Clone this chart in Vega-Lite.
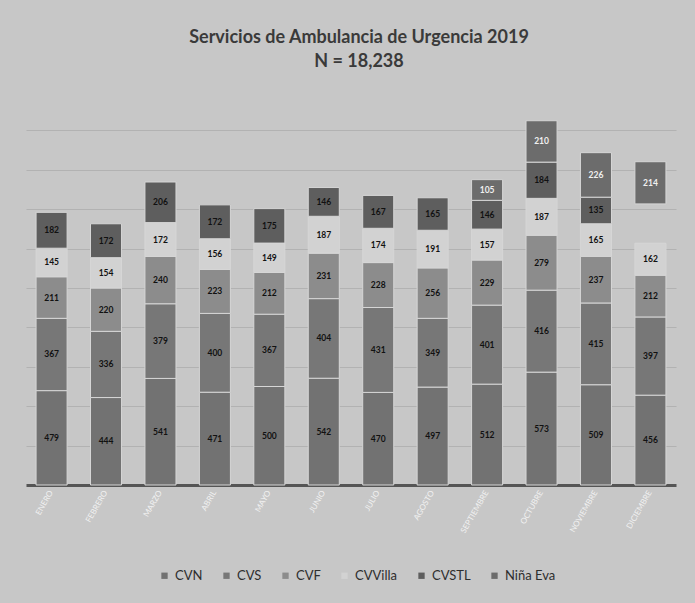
{
  "$schema": "https://vega.github.io/schema/vega-lite/v6.json",
  "width": 650,
  "height": 394,
  "autosize": {"type": "none"},
  "padding": {"left": 26, "top": 91, "right": 19, "bottom": 118},
  "background": "#c7c7c7",
  "config": {"view": {"stroke": null}},
  "title": {
    "text": ["Servicios de Ambulancia de Urgencia 2019", "N = 18,238"],
    "font": "Lato",
    "fontSize": 18,
    "fontWeight": "bold",
    "color": "#3a3a3a",
    "anchor": "middle",
    "dx": 8,
    "offset": 20,
    "lineHeight": 24
  },
  "data": {
    "values": [
      {"mes": "ENERO", "serie": "CVN", "valor": 479},
      {"mes": "ENERO", "serie": "CVS", "valor": 367},
      {"mes": "ENERO", "serie": "CVF", "valor": 211},
      {"mes": "ENERO", "serie": "CVVilla", "valor": 145},
      {"mes": "ENERO", "serie": "CVSTL", "valor": 182},
      {"mes": "FEBRERO", "serie": "CVN", "valor": 444},
      {"mes": "FEBRERO", "serie": "CVS", "valor": 336},
      {"mes": "FEBRERO", "serie": "CVF", "valor": 220},
      {"mes": "FEBRERO", "serie": "CVVilla", "valor": 154},
      {"mes": "FEBRERO", "serie": "CVSTL", "valor": 172},
      {"mes": "MARZO", "serie": "CVN", "valor": 541},
      {"mes": "MARZO", "serie": "CVS", "valor": 379},
      {"mes": "MARZO", "serie": "CVF", "valor": 240},
      {"mes": "MARZO", "serie": "CVVilla", "valor": 172},
      {"mes": "MARZO", "serie": "CVSTL", "valor": 206},
      {"mes": "ABRIL", "serie": "CVN", "valor": 471},
      {"mes": "ABRIL", "serie": "CVS", "valor": 400},
      {"mes": "ABRIL", "serie": "CVF", "valor": 223},
      {"mes": "ABRIL", "serie": "CVVilla", "valor": 156},
      {"mes": "ABRIL", "serie": "CVSTL", "valor": 172},
      {"mes": "MAYO", "serie": "CVN", "valor": 500},
      {"mes": "MAYO", "serie": "CVS", "valor": 367},
      {"mes": "MAYO", "serie": "CVF", "valor": 212},
      {"mes": "MAYO", "serie": "CVVilla", "valor": 149},
      {"mes": "MAYO", "serie": "CVSTL", "valor": 175},
      {"mes": "JUNIO", "serie": "CVN", "valor": 542},
      {"mes": "JUNIO", "serie": "CVS", "valor": 404},
      {"mes": "JUNIO", "serie": "CVF", "valor": 231},
      {"mes": "JUNIO", "serie": "CVVilla", "valor": 187},
      {"mes": "JUNIO", "serie": "CVSTL", "valor": 146},
      {"mes": "JULIO", "serie": "CVN", "valor": 470},
      {"mes": "JULIO", "serie": "CVS", "valor": 431},
      {"mes": "JULIO", "serie": "CVF", "valor": 228},
      {"mes": "JULIO", "serie": "CVVilla", "valor": 174},
      {"mes": "JULIO", "serie": "CVSTL", "valor": 167},
      {"mes": "AGOSTO", "serie": "CVN", "valor": 497},
      {"mes": "AGOSTO", "serie": "CVS", "valor": 349},
      {"mes": "AGOSTO", "serie": "CVF", "valor": 256},
      {"mes": "AGOSTO", "serie": "CVVilla", "valor": 191},
      {"mes": "AGOSTO", "serie": "CVSTL", "valor": 165},
      {"mes": "SEPTIEMBRE", "serie": "CVN", "valor": 512},
      {"mes": "SEPTIEMBRE", "serie": "CVS", "valor": 401},
      {"mes": "SEPTIEMBRE", "serie": "CVF", "valor": 229},
      {"mes": "SEPTIEMBRE", "serie": "CVVilla", "valor": 157},
      {"mes": "SEPTIEMBRE", "serie": "CVSTL", "valor": 146},
      {"mes": "SEPTIEMBRE", "serie": "Niña Eva", "valor": 105},
      {"mes": "OCTUBRE", "serie": "CVN", "valor": 573},
      {"mes": "OCTUBRE", "serie": "CVS", "valor": 416},
      {"mes": "OCTUBRE", "serie": "CVF", "valor": 279},
      {"mes": "OCTUBRE", "serie": "CVVilla", "valor": 187},
      {"mes": "OCTUBRE", "serie": "CVSTL", "valor": 184},
      {"mes": "OCTUBRE", "serie": "Niña Eva", "valor": 210},
      {"mes": "NOVIEMBRE", "serie": "CVN", "valor": 509},
      {"mes": "NOVIEMBRE", "serie": "CVS", "valor": 415},
      {"mes": "NOVIEMBRE", "serie": "CVF", "valor": 237},
      {"mes": "NOVIEMBRE", "serie": "CVVilla", "valor": 165},
      {"mes": "NOVIEMBRE", "serie": "CVSTL", "valor": 135},
      {"mes": "NOVIEMBRE", "serie": "Niña Eva", "valor": 226},
      {"mes": "DICIEMBRE", "serie": "CVN", "valor": 456},
      {"mes": "DICIEMBRE", "serie": "CVS", "valor": 397},
      {"mes": "DICIEMBRE", "serie": "CVF", "valor": 212},
      {"mes": "DICIEMBRE", "serie": "CVVilla", "valor": 162},
      {"mes": "DICIEMBRE", "serie": "CVSTL", "valor": 200},
      {"mes": "DICIEMBRE", "serie": "Niña Eva", "valor": 214}
    ]
  },
  "transform": [
    {"calculate": "indexof(['CVN','CVS','CVF','CVVilla','CVSTL','Niña Eva'], datum.serie)", "as": "orden"},
    {"stack": "valor", "groupby": ["mes"], "sort": [{"field": "orden", "order": "ascending"}], "as": ["v0", "v1"]},
    {"calculate": "(datum.v0 + datum.v1) / 2", "as": "vmid"}
  ],
  "encoding": {
    "x": {
      "field": "mes",
      "type": "nominal",
      "sort": ["ENERO","FEBRERO","MARZO","ABRIL","MAYO","JUNIO","JULIO","AGOSTO","SEPTIEMBRE","OCTUBRE","NOVIEMBRE","DICIEMBRE"],
      "scale": {"paddingInner": 0.43, "paddingOuter": 0.185},
      "axis": {
        "title": null,
        "labelAngle": -60,
        "labelColor": "#f2f2f2",
        "labelFont": "Lato",
        "labelFontSize": 8,
        "labelPadding": 6,
        "ticks": false,
        "domainColor": "#555555",
        "domainWidth": 3,
        "grid": false
      }
    }
  },
  "layer": [
    {
      "mark": {"type": "bar", "stroke": "#d6d6d6", "strokeWidth": 1},
      "encoding": {
        "y": {
          "field": "v0",
          "type": "quantitative",
          "scale": {"domain": [0, 2000], "nice": false},
          "axis": {
            "title": null,
            "labels": false,
            "ticks": false,
            "domain": false,
            "grid": true,
            "values": [200, 400, 600, 800, 1000, 1200, 1400, 1600, 1800],
            "gridColor": "#9a9a9a",
            "gridOpacity": 0.45
          }
        },
        "y2": {"field": "v1"},
        "color": {
          "field": "serie",
          "type": "nominal",
          "scale": {
            "domain": ["CVN", "CVS", "CVF", "CVVilla", "CVSTL", "Niña Eva"],
            "range": ["#727272", "#777777", "#8c8c8c", "#d2d2d2", "#5e5e5e", "#6c6c6c"]
          },
          "legend": {
            "title": null,
            "orient": "none",
            "direction": "horizontal",
            "legendX": 132,
            "legendY": 478,
            "symbolType": "square",
            "symbolSize": 40,
            "symbolStrokeWidth": 0,
            "labelFont": "Lato",
            "labelFontSize": 13,
            "labelColor": "#2e2e2e",
            "columnPadding": 17
          }
        },
        "opacity": {
          "condition": {"test": "datum.mes === 'DICIEMBRE' && datum.serie === 'CVSTL'", "value": 0},
          "value": 1
        }
      }
    },
    {
      "mark": {"type": "text", "font": "Lato", "fontSize": 8.5, "fontWeight": "bold", "baseline": "middle"},
      "encoding": {
        "y": {"field": "vmid", "type": "quantitative"},
        "text": {"field": "valor", "type": "quantitative"},
        "color": {
          "condition": {"test": "datum.serie === 'Niña Eva'", "value": "#f0f0f0"},
          "value": "#111111"
        },
        "opacity": {
          "condition": {"test": "datum.mes === 'DICIEMBRE' && datum.serie === 'CVSTL'", "value": 0},
          "value": 1
        }
      }
    }
  ]
}
